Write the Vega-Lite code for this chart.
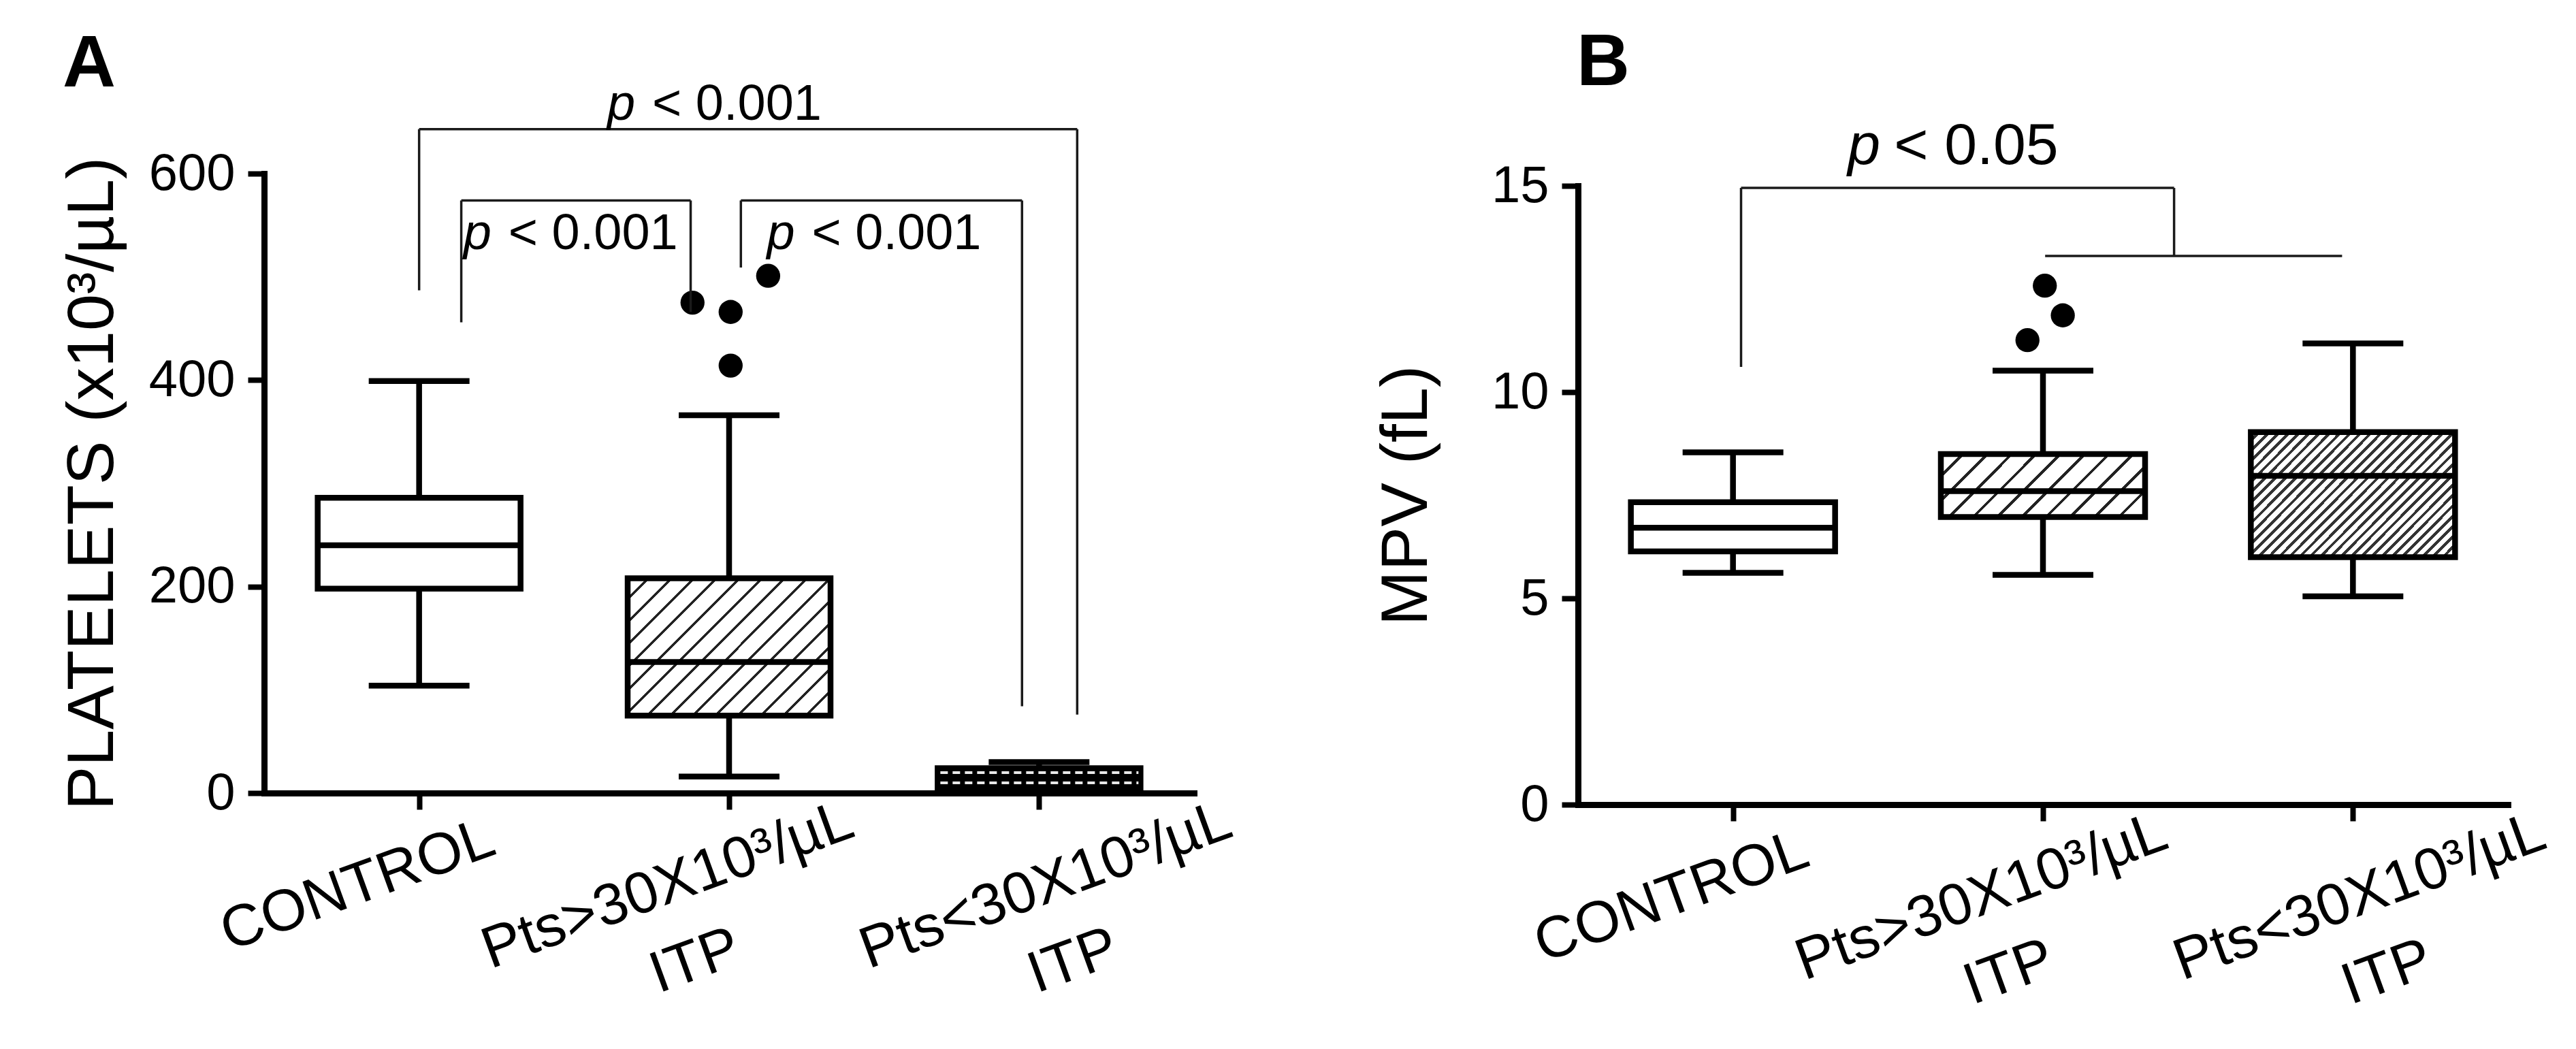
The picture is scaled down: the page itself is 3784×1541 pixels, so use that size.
{
  "$schema": "https://vega.github.io/schema/vega-lite/v6.json",
  "background": "white",
  "padding": {"left": 86, "top": 38, "right": 10, "bottom": 10},
  "config": {
    "font": "Liberation Sans",
    "view": {"stroke": null},
    "axis": {"domainColor": "black", "tickColor": "black", "labelColor": "black", "titleColor": "black", "grid": false, "domainCap": "square", "labelLimit": 2000}
  },
  "datasets": {
    "boxA": [
      {"grp": "CONTROL", "pos": 1, "lo": 104, "q1": 198, "med": 240, "q3": 286, "hi": 399},
      {"grp": "PtsHigh", "pos": 2, "lo": 16, "q1": 75, "med": 127, "q3": 208, "hi": 366},
      {"grp": "PtsLow", "pos": 3, "lo": 1, "q1": 3, "med": 14, "q3": 24, "hi": 30}
    ],
    "outA": [{"pos": 1.882, "v": 475}, {"pos": 2.005, "v": 466}, {"pos": 2.005, "v": 414}, {"pos": 2.126, "v": 501}],
    "dashA": [{"pos": 3, "v": 19.8}, {"pos": 3, "v": 9.9}],
    "brA": [
      {"x": 1.0, "x2": 3.123, "y": 643, "y2": 643},
      {"x": 1.0, "x2": 1.0, "y": 643, "y2": 487},
      {"x": 3.123, "x2": 3.123, "y": 643, "y2": 76},
      {"x": 1.136, "x2": 1.876, "y": 574, "y2": 574},
      {"x": 1.136, "x2": 1.136, "y": 574, "y2": 456},
      {"x": 1.876, "x2": 1.876, "y": 574, "y2": 466},
      {"x": 2.038, "x2": 2.945, "y": 574, "y2": 574},
      {"x": 2.038, "x2": 2.038, "y": 574, "y2": 509},
      {"x": 2.945, "x2": 2.945, "y": 574, "y2": 84}
    ],
    "pA": [{"x": 1.607, "y": 652, "t": "< 0.001"}, {"x": 1.143, "y": 527, "t": "< 0.001"}, {"x": 2.122, "y": 527, "t": "< 0.001"}],
    "boxB": [
      {"grp": "CONTROL", "pos": 1, "lo": 5.62, "q1": 6.14, "med": 6.71, "q3": 7.33, "hi": 8.54},
      {"grp": "PtsHigh", "pos": 2, "lo": 5.57, "q1": 6.97, "med": 7.6, "q3": 8.5, "hi": 10.52},
      {"grp": "PtsLow", "pos": 3, "lo": 5.05, "q1": 6.0, "med": 7.97, "q3": 9.03, "hi": 11.18}
    ],
    "outB": [{"pos": 1.95, "v": 11.26}, {"pos": 2.006, "v": 12.58}, {"pos": 2.064, "v": 11.86}],
    "brB": [
      {"x": 1.026, "x2": 2.423, "y": 14.95, "y2": 14.95},
      {"x": 1.026, "x2": 1.026, "y": 14.95, "y2": 10.61},
      {"x": 2.423, "x2": 2.423, "y": 14.95, "y2": 13.3},
      {"x": 2.007, "x2": 2.965, "y": 13.3, "y2": 13.3}
    ],
    "pB": [{"x": 1.37, "y": 15.53, "t": "< 0.05"}]
  },
  "spacing": 564,
  "bounds": "flush",
  "hconcat": [
    {
      "width": 1366,
      "height": 910,
      "title": {"text": "A", "anchor": "start", "frame": "group", "fontSize": 108, "fontWeight": "bold", "baseline": "alphabetic", "offset": 0, "dx": -296, "dy": 118, "color": "black"},
      "layer": [
        {
          "data": {"name": "boxA"},
          "mark": {"type": "rule", "color": "black", "strokeWidth": 8.5},
          "encoding": {
            "x": {"field": "pos", "type": "quantitative", "scale": {"domain": [0.5, 3.5], "nice": false, "zero": false},
              "axis": {"values": [1, 2, 3], "title": null,
                "labelExpr": "datum.value == 1 ? 'CONTROL' : datum.value == 2 ? ['Pts>30X10³/µL', 'ITP'] : ['Pts<30X10³/µL', 'ITP']",
                "labelAngle": -20, "labelAlign": "center", "labelBaseline": "top", "labelFontSize": 86, "labelLineHeight": 118,
                "labelPadding": 72, "labelOffset": {"condition": {"test": "datum.value == 3", "value": -5}, "value": -105},
                "labelFlush": false, "labelOverlap": false, "labelBound": false, "labelLimit": 2000,
                "tickSize": 24, "tickWidth": 8, "domainWidth": 9}},
            "y": {"field": "lo", "type": "quantitative", "scale": {"domain": [0, 600], "nice": false},
              "axis": {"values": [0, 200, 400, 600], "format": "d", "title": "PLATELETS (x10³/µL)", "titleFontSize": 97, "titleFontWeight": "normal",
                "titleX": -223, "titleBaseline": "alphabetic", "labelFontSize": 76, "labelPadding": 19,
                "tickSize": 24, "tickWidth": 8, "domainWidth": 9}},
            "y2": {"field": "hi"}
          }
        },
        {
          "data": {"name": "boxA"},
          "mark": {"type": "rule", "color": "black", "strokeWidth": 8.5, "xOffset": -74, "x2Offset": 74},
          "encoding": {"x": {"field": "pos", "type": "quantitative"}, "x2": {"field": "pos"}, "y": {"field": "lo", "type": "quantitative"}}
        },
        {
          "data": {"name": "boxA"},
          "mark": {"type": "rule", "color": "black", "strokeWidth": 8.5, "xOffset": -74, "x2Offset": 74},
          "encoding": {"x": {"field": "pos", "type": "quantitative"}, "x2": {"field": "pos"}, "y": {"field": "hi", "type": "quantitative"}}
        },
        {
          "data": {"name": "boxA"},
          "transform": [{"filter": "datum.grp === 'CONTROL'"}],
          "mark": {"type": "rect", "fill": "white", "stroke": "black", "strokeWidth": 8.5, "xOffset": -149, "x2Offset": 149},
          "encoding": {"x": {"field": "pos", "type": "quantitative"}, "x2": {"field": "pos"}, "y": {"field": "q1", "type": "quantitative"}, "y2": {"field": "q3"}}
        },
        {
          "data": {"name": "boxA"},
          "transform": [{"filter": "datum.grp === 'PtsHigh'"}],
          "mark": {"type": "rect", "stroke": "black", "strokeWidth": 8.5, "xOffset": -149, "x2Offset": 149,
            "fill": {"gradient": "linear", "x1": 0, "y1": 0, "x2": 1.15, "y2": 0.778, "stops": [
              {"offset": 0, "color": "#fff"}, {"offset": 0.0567, "color": "#fff"}, {"offset": 0.0567, "color": "#222"}, {"offset": 0.0667, "color": "#222"},
              {"offset": 0.0667, "color": "#fff"}, {"offset": 0.1233, "color": "#fff"}, {"offset": 0.1233, "color": "#222"}, {"offset": 0.1333, "color": "#222"},
              {"offset": 0.1333, "color": "#fff"}, {"offset": 0.19, "color": "#fff"}, {"offset": 0.19, "color": "#222"}, {"offset": 0.2, "color": "#222"},
              {"offset": 0.2, "color": "#fff"}, {"offset": 0.2567, "color": "#fff"}, {"offset": 0.2567, "color": "#222"}, {"offset": 0.2667, "color": "#222"},
              {"offset": 0.2667, "color": "#fff"}, {"offset": 0.3233, "color": "#fff"}, {"offset": 0.3233, "color": "#222"}, {"offset": 0.3333, "color": "#222"},
              {"offset": 0.3333, "color": "#fff"}, {"offset": 0.39, "color": "#fff"}, {"offset": 0.39, "color": "#222"}, {"offset": 0.4, "color": "#222"},
              {"offset": 0.4, "color": "#fff"}, {"offset": 0.4567, "color": "#fff"}, {"offset": 0.4567, "color": "#222"}, {"offset": 0.4667, "color": "#222"},
              {"offset": 0.4667, "color": "#fff"}, {"offset": 0.5233, "color": "#fff"}, {"offset": 0.5233, "color": "#222"}, {"offset": 0.5333, "color": "#222"},
              {"offset": 0.5333, "color": "#fff"}, {"offset": 0.59, "color": "#fff"}, {"offset": 0.59, "color": "#222"}, {"offset": 0.6, "color": "#222"},
              {"offset": 0.6, "color": "#fff"}, {"offset": 0.6567, "color": "#fff"}, {"offset": 0.6567, "color": "#222"}, {"offset": 0.6667, "color": "#222"},
              {"offset": 0.6667, "color": "#fff"}, {"offset": 0.7233, "color": "#fff"}, {"offset": 0.7233, "color": "#222"}, {"offset": 0.7333, "color": "#222"},
              {"offset": 0.7333, "color": "#fff"}, {"offset": 0.79, "color": "#fff"}, {"offset": 0.79, "color": "#222"}, {"offset": 0.8, "color": "#222"},
              {"offset": 0.8, "color": "#fff"}, {"offset": 0.8567, "color": "#fff"}, {"offset": 0.8567, "color": "#222"}, {"offset": 0.8667, "color": "#222"},
              {"offset": 0.8667, "color": "#fff"}, {"offset": 0.9233, "color": "#fff"}, {"offset": 0.9233, "color": "#222"}, {"offset": 0.9333, "color": "#222"},
              {"offset": 0.9333, "color": "#fff"}, {"offset": 0.99, "color": "#fff"}, {"offset": 0.99, "color": "#222"}, {"offset": 1, "color": "#222"}
            ]}},
          "encoding": {"x": {"field": "pos", "type": "quantitative"}, "x2": {"field": "pos"}, "y": {"field": "q1", "type": "quantitative"}, "y2": {"field": "q3"}}
        },
        {
          "data": {"name": "boxA"},
          "transform": [{"filter": "datum.grp === 'PtsLow'"}],
          "mark": {"type": "rect", "fill": "black", "stroke": "black", "strokeWidth": 8.5, "xOffset": -149, "x2Offset": 149},
          "encoding": {"x": {"field": "pos", "type": "quantitative"}, "x2": {"field": "pos"}, "y": {"field": "q1", "type": "quantitative"}, "y2": {"field": "q3"}}
        },
        {
          "data": {"name": "boxA"},
          "mark": {"type": "rule", "color": "black", "strokeWidth": 8.5, "xOffset": -149, "x2Offset": 149},
          "encoding": {"x": {"field": "pos", "type": "quantitative"}, "x2": {"field": "pos"}, "y": {"field": "med", "type": "quantitative"}}
        },
        {
          "data": {"name": "dashA"},
          "mark": {"type": "rule", "color": "#e8e8e8", "strokeWidth": 4, "strokeDash": [11, 7], "xOffset": -145, "x2Offset": 146},
          "encoding": {"x": {"field": "pos", "type": "quantitative"}, "x2": {"field": "pos"}, "y": {"field": "v", "type": "quantitative"}}
        },
        {
          "data": {"name": "outA"},
          "mark": {"type": "point", "shape": "circle", "filled": true, "color": "black", "opacity": 1, "size": 1250},
          "encoding": {"x": {"field": "pos", "type": "quantitative"}, "y": {"field": "v", "type": "quantitative"}}
        },
        {
          "data": {"name": "brA"},
          "mark": {"type": "rule", "color": "#1a1a1a", "strokeWidth": 3.5},
          "encoding": {"x": {"field": "x", "type": "quantitative"}, "x2": {"field": "x2"}, "y": {"field": "y", "type": "quantitative"}, "y2": {"field": "y2"}}
        },
        {
          "data": {"name": "pA"},
          "mark": {"type": "text", "text": "p", "fontStyle": "italic", "fontSize": 74, "align": "left", "baseline": "alphabetic", "color": "black"},
          "encoding": {"x": {"field": "x", "type": "quantitative"}, "y": {"field": "y", "type": "quantitative"}}
        },
        {
          "data": {"name": "pA"},
          "mark": {"type": "text", "fontSize": 74, "align": "left", "baseline": "alphabetic", "dx": 66, "color": "black"},
          "encoding": {"x": {"field": "x", "type": "quantitative"}, "y": {"field": "y", "type": "quantitative"}, "text": {"field": "t"}}
        }
      ]
    },
    {
      "width": 1366,
      "height": 927,
      "title": {"text": "B", "anchor": "start", "frame": "group", "fontSize": 108, "fontWeight": "bold", "baseline": "alphabetic", "offset": 0, "dx": -2, "dy": 61, "color": "black"},
      "layer": [
        {
          "data": {"name": "boxB"},
          "mark": {"type": "rule", "color": "black", "strokeWidth": 8.5},
          "encoding": {
            "x": {"field": "pos", "type": "quantitative", "scale": {"domain": [0.5, 3.5], "nice": false, "zero": false},
              "axis": {"values": [1, 2, 3], "title": null,
                "labelExpr": "datum.value == 1 ? 'CONTROL' : datum.value == 2 ? ['Pts>30X10³/µL', 'ITP'] : ['Pts<30X10³/µL', 'ITP']",
                "labelAngle": -20, "labelAlign": "center", "labelBaseline": "top", "labelFontSize": 86, "labelLineHeight": 118,
                "labelPadding": 72, "labelOffset": {"condition": {"test": "datum.value == 3", "value": -5}, "value": -105},
                "labelFlush": false, "labelOverlap": false, "labelBound": false, "labelLimit": 2000,
                "tickSize": 24, "tickWidth": 8, "domainWidth": 9}},
            "y": {"field": "lo", "type": "quantitative", "scale": {"domain": [0, 15], "range": [927, 18], "nice": false},
              "axis": {"values": [0, 5, 10, 15], "format": "d", "title": "MPV (fL)", "titleFontSize": 97, "titleFontWeight": "normal",
                "titleX": -223, "titleBaseline": "alphabetic", "labelFontSize": 76, "labelPadding": 19,
                "tickSize": 24, "tickWidth": 8, "domainWidth": 9}},
            "y2": {"field": "hi"}
          }
        },
        {
          "data": {"name": "boxB"},
          "mark": {"type": "rule", "color": "black", "strokeWidth": 8.5, "xOffset": -74, "x2Offset": 74},
          "encoding": {"x": {"field": "pos", "type": "quantitative"}, "x2": {"field": "pos"}, "y": {"field": "lo", "type": "quantitative"}}
        },
        {
          "data": {"name": "boxB"},
          "mark": {"type": "rule", "color": "black", "strokeWidth": 8.5, "xOffset": -74, "x2Offset": 74},
          "encoding": {"x": {"field": "pos", "type": "quantitative"}, "x2": {"field": "pos"}, "y": {"field": "hi", "type": "quantitative"}}
        },
        {
          "data": {"name": "boxB"},
          "transform": [{"filter": "datum.grp === 'CONTROL'"}],
          "mark": {"type": "rect", "fill": "white", "stroke": "black", "strokeWidth": 8.5, "xOffset": -150, "x2Offset": 150},
          "encoding": {"x": {"field": "pos", "type": "quantitative"}, "x2": {"field": "pos"}, "y": {"field": "q1", "type": "quantitative"}, "y2": {"field": "q3"}}
        },
        {
          "data": {"name": "boxB"},
          "transform": [{"filter": "datum.grp === 'PtsHigh'"}],
          "mark": {"type": "rect", "stroke": "black", "strokeWidth": 8.5, "xOffset": -150, "x2Offset": 150,
            "fill": {"gradient": "linear", "x1": 0, "y1": 0, "x2": 1.195, "y2": 0.369, "stops": [
              {"offset": 0, "color": "#fff"}, {"offset": 0.0764, "color": "#fff"}, {"offset": 0.0764, "color": "#222"}, {"offset": 0.0909, "color": "#222"},
              {"offset": 0.0909, "color": "#fff"}, {"offset": 0.1673, "color": "#fff"}, {"offset": 0.1673, "color": "#222"}, {"offset": 0.1818, "color": "#222"},
              {"offset": 0.1818, "color": "#fff"}, {"offset": 0.2582, "color": "#fff"}, {"offset": 0.2582, "color": "#222"}, {"offset": 0.2727, "color": "#222"},
              {"offset": 0.2727, "color": "#fff"}, {"offset": 0.3491, "color": "#fff"}, {"offset": 0.3491, "color": "#222"}, {"offset": 0.3636, "color": "#222"},
              {"offset": 0.3636, "color": "#fff"}, {"offset": 0.44, "color": "#fff"}, {"offset": 0.44, "color": "#222"}, {"offset": 0.4545, "color": "#222"},
              {"offset": 0.4545, "color": "#fff"}, {"offset": 0.5309, "color": "#fff"}, {"offset": 0.5309, "color": "#222"}, {"offset": 0.5455, "color": "#222"},
              {"offset": 0.5455, "color": "#fff"}, {"offset": 0.6218, "color": "#fff"}, {"offset": 0.6218, "color": "#222"}, {"offset": 0.6364, "color": "#222"},
              {"offset": 0.6364, "color": "#fff"}, {"offset": 0.7127, "color": "#fff"}, {"offset": 0.7127, "color": "#222"}, {"offset": 0.7273, "color": "#222"},
              {"offset": 0.7273, "color": "#fff"}, {"offset": 0.8036, "color": "#fff"}, {"offset": 0.8036, "color": "#222"}, {"offset": 0.8182, "color": "#222"},
              {"offset": 0.8182, "color": "#fff"}, {"offset": 0.8945, "color": "#fff"}, {"offset": 0.8945, "color": "#222"}, {"offset": 0.9091, "color": "#222"},
              {"offset": 0.9091, "color": "#fff"}, {"offset": 0.9855, "color": "#fff"}, {"offset": 0.9855, "color": "#222"}, {"offset": 1, "color": "#222"}
            ]}},
          "encoding": {"x": {"field": "pos", "type": "quantitative"}, "x2": {"field": "pos"}, "y": {"field": "q1", "type": "quantitative"}, "y2": {"field": "q3"}}
        },
        {
          "data": {"name": "boxB"},
          "transform": [{"filter": "datum.grp === 'PtsLow'"}],
          "mark": {"type": "rect", "stroke": "black", "strokeWidth": 8.5, "xOffset": -150, "x2Offset": 150,
            "fill": {"gradient": "linear", "x1": 0, "y1": 0, "x2": 1.175, "y2": 0.712, "stops": [
              {"offset": 0, "color": "#fff"}, {"offset": 0.019375, "color": "#fff"}, {"offset": 0.019375, "color": "#333"}, {"offset": 0.03125, "color": "#333"},
              {"offset": 0.03125, "color": "#fff"}, {"offset": 0.050625, "color": "#fff"}, {"offset": 0.050625, "color": "#333"}, {"offset": 0.0625, "color": "#333"},
              {"offset": 0.0625, "color": "#fff"}, {"offset": 0.081875, "color": "#fff"}, {"offset": 0.081875, "color": "#333"}, {"offset": 0.09375, "color": "#333"},
              {"offset": 0.09375, "color": "#fff"}, {"offset": 0.113125, "color": "#fff"}, {"offset": 0.113125, "color": "#333"}, {"offset": 0.125, "color": "#333"},
              {"offset": 0.125, "color": "#fff"}, {"offset": 0.144375, "color": "#fff"}, {"offset": 0.144375, "color": "#333"}, {"offset": 0.15625, "color": "#333"},
              {"offset": 0.15625, "color": "#fff"}, {"offset": 0.175625, "color": "#fff"}, {"offset": 0.175625, "color": "#333"}, {"offset": 0.1875, "color": "#333"},
              {"offset": 0.1875, "color": "#fff"}, {"offset": 0.206875, "color": "#fff"}, {"offset": 0.206875, "color": "#333"}, {"offset": 0.21875, "color": "#333"},
              {"offset": 0.21875, "color": "#fff"}, {"offset": 0.238125, "color": "#fff"}, {"offset": 0.238125, "color": "#333"}, {"offset": 0.25, "color": "#333"},
              {"offset": 0.25, "color": "#fff"}, {"offset": 0.269375, "color": "#fff"}, {"offset": 0.269375, "color": "#333"}, {"offset": 0.28125, "color": "#333"},
              {"offset": 0.28125, "color": "#fff"}, {"offset": 0.300625, "color": "#fff"}, {"offset": 0.300625, "color": "#333"}, {"offset": 0.3125, "color": "#333"},
              {"offset": 0.3125, "color": "#fff"}, {"offset": 0.331875, "color": "#fff"}, {"offset": 0.331875, "color": "#333"}, {"offset": 0.34375, "color": "#333"},
              {"offset": 0.34375, "color": "#fff"}, {"offset": 0.363125, "color": "#fff"}, {"offset": 0.363125, "color": "#333"}, {"offset": 0.375, "color": "#333"},
              {"offset": 0.375, "color": "#fff"}, {"offset": 0.394375, "color": "#fff"}, {"offset": 0.394375, "color": "#333"}, {"offset": 0.40625, "color": "#333"},
              {"offset": 0.40625, "color": "#fff"}, {"offset": 0.425625, "color": "#fff"}, {"offset": 0.425625, "color": "#333"}, {"offset": 0.4375, "color": "#333"},
              {"offset": 0.4375, "color": "#fff"}, {"offset": 0.456875, "color": "#fff"}, {"offset": 0.456875, "color": "#333"}, {"offset": 0.46875, "color": "#333"},
              {"offset": 0.46875, "color": "#fff"}, {"offset": 0.488125, "color": "#fff"}, {"offset": 0.488125, "color": "#333"}, {"offset": 0.5, "color": "#333"},
              {"offset": 0.5, "color": "#fff"}, {"offset": 0.519375, "color": "#fff"}, {"offset": 0.519375, "color": "#333"}, {"offset": 0.53125, "color": "#333"},
              {"offset": 0.53125, "color": "#fff"}, {"offset": 0.550625, "color": "#fff"}, {"offset": 0.550625, "color": "#333"}, {"offset": 0.5625, "color": "#333"},
              {"offset": 0.5625, "color": "#fff"}, {"offset": 0.581875, "color": "#fff"}, {"offset": 0.581875, "color": "#333"}, {"offset": 0.59375, "color": "#333"},
              {"offset": 0.59375, "color": "#fff"}, {"offset": 0.613125, "color": "#fff"}, {"offset": 0.613125, "color": "#333"}, {"offset": 0.625, "color": "#333"},
              {"offset": 0.625, "color": "#fff"}, {"offset": 0.644375, "color": "#fff"}, {"offset": 0.644375, "color": "#333"}, {"offset": 0.65625, "color": "#333"},
              {"offset": 0.65625, "color": "#fff"}, {"offset": 0.675625, "color": "#fff"}, {"offset": 0.675625, "color": "#333"}, {"offset": 0.6875, "color": "#333"},
              {"offset": 0.6875, "color": "#fff"}, {"offset": 0.706875, "color": "#fff"}, {"offset": 0.706875, "color": "#333"}, {"offset": 0.71875, "color": "#333"},
              {"offset": 0.71875, "color": "#fff"}, {"offset": 0.738125, "color": "#fff"}, {"offset": 0.738125, "color": "#333"}, {"offset": 0.75, "color": "#333"},
              {"offset": 0.75, "color": "#fff"}, {"offset": 0.769375, "color": "#fff"}, {"offset": 0.769375, "color": "#333"}, {"offset": 0.78125, "color": "#333"},
              {"offset": 0.78125, "color": "#fff"}, {"offset": 0.800625, "color": "#fff"}, {"offset": 0.800625, "color": "#333"}, {"offset": 0.8125, "color": "#333"},
              {"offset": 0.8125, "color": "#fff"}, {"offset": 0.831875, "color": "#fff"}, {"offset": 0.831875, "color": "#333"}, {"offset": 0.84375, "color": "#333"},
              {"offset": 0.84375, "color": "#fff"}, {"offset": 0.863125, "color": "#fff"}, {"offset": 0.863125, "color": "#333"}, {"offset": 0.875, "color": "#333"},
              {"offset": 0.875, "color": "#fff"}, {"offset": 0.894375, "color": "#fff"}, {"offset": 0.894375, "color": "#333"}, {"offset": 0.90625, "color": "#333"},
              {"offset": 0.90625, "color": "#fff"}, {"offset": 0.925625, "color": "#fff"}, {"offset": 0.925625, "color": "#333"}, {"offset": 0.9375, "color": "#333"},
              {"offset": 0.9375, "color": "#fff"}, {"offset": 0.956875, "color": "#fff"}, {"offset": 0.956875, "color": "#333"}, {"offset": 0.96875, "color": "#333"},
              {"offset": 0.96875, "color": "#fff"}, {"offset": 0.988125, "color": "#fff"}, {"offset": 0.988125, "color": "#333"}, {"offset": 1, "color": "#333"}
            ]}},
          "encoding": {"x": {"field": "pos", "type": "quantitative"}, "x2": {"field": "pos"}, "y": {"field": "q1", "type": "quantitative"}, "y2": {"field": "q3"}}
        },
        {
          "data": {"name": "boxB"},
          "mark": {"type": "rule", "color": "black", "strokeWidth": 8.5, "xOffset": -150, "x2Offset": 150},
          "encoding": {"x": {"field": "pos", "type": "quantitative"}, "x2": {"field": "pos"}, "y": {"field": "med", "type": "quantitative"}}
        },
        {
          "data": {"name": "outB"},
          "mark": {"type": "point", "shape": "circle", "filled": true, "color": "black", "opacity": 1, "size": 1250},
          "encoding": {"x": {"field": "pos", "type": "quantitative"}, "y": {"field": "v", "type": "quantitative"}}
        },
        {
          "data": {"name": "brB"},
          "mark": {"type": "rule", "color": "#1a1a1a", "strokeWidth": 3.5},
          "encoding": {"x": {"field": "x", "type": "quantitative"}, "x2": {"field": "x2"}, "y": {"field": "y", "type": "quantitative"}, "y2": {"field": "y2"}}
        },
        {
          "data": {"name": "pB"},
          "mark": {"type": "text", "text": "p", "fontStyle": "italic", "fontSize": 86, "align": "left", "baseline": "alphabetic", "color": "black"},
          "encoding": {"x": {"field": "x", "type": "quantitative"}, "y": {"field": "y", "type": "quantitative"}}
        },
        {
          "data": {"name": "pB"},
          "mark": {"type": "text", "fontSize": 86, "align": "left", "baseline": "alphabetic", "dx": 68, "color": "black"},
          "encoding": {"x": {"field": "x", "type": "quantitative"}, "y": {"field": "y", "type": "quantitative"}, "text": {"field": "t"}}
        }
      ]
    }
  ]
}
